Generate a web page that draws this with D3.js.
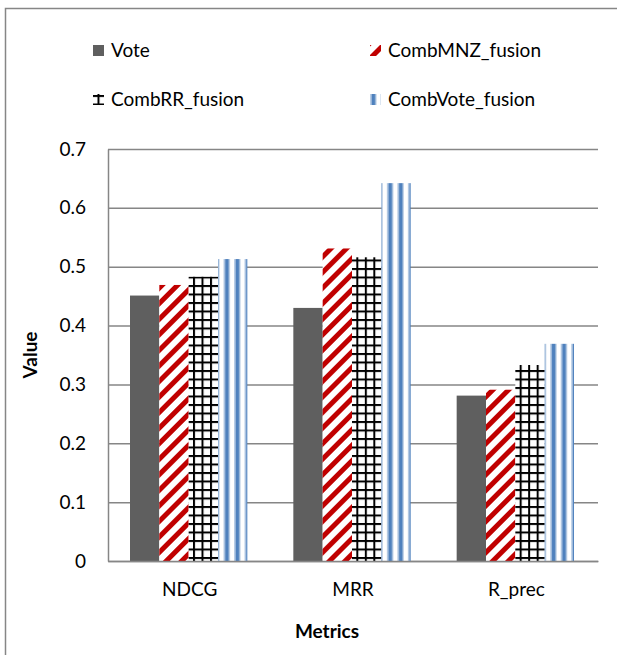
<!DOCTYPE html>
<html>
<head>
<meta charset="utf-8">
<script src="https://cdn.jsdelivr.net/npm/d3@7"></script>
<style>
  html, body { margin: 0; padding: 0; background: #fff; overflow: hidden; }
  svg { display: block; font-family: Lato, "Open Sans", sans-serif; }
</style>
</head>
<body>
<div id="chart"></div>
<script>
// ---------- data ----------
const metrics = ["NDCG", "MRR", "R_prec"];
const seriesNames = ["Vote", "CombMNZ_fusion", "CombRR_fusion", "CombVote_fusion"];
const vote = [0.451, 0.430, 0.281];
const combMNZ = [0.469, 0.531, 0.291];
const combRR = [0.483, 0.516, 0.333];
const combVote = [0.513, 0.642, 0.369];
const yTicks = [0, 0.1, 0.2, 0.3, 0.4, 0.5, 0.6, 0.7];

const seriesValues = [vote, combMNZ, combRR, combVote];

// ---------- layout ----------
const width = 617, height = 655;
const margin = { top: 149, right: 19, bottom: 94, left: 108 };
const innerWidth = width - margin.left - margin.right;
const innerHeight = height - margin.top - margin.bottom;

const svg = d3.select("#chart").append("svg")
  .attr("width", width)
  .attr("height", height);

// ---------- patterns ----------
const defs = svg.append("defs");

// red diagonal stripes
const pRed = defs.append("pattern")
  .attr("id", "pat-mnz")
  .attr("patternUnits", "userSpaceOnUse")
  .attr("width", 11).attr("height", 11)
  .attr("patternTransform", "rotate(45)");
pRed.append("rect").attr("width", 11).attr("height", 11).attr("fill", "#fff");
pRed.append("rect").attr("width", 5).attr("height", 11).attr("fill", "#c00000");

// black grid
const pGrid = defs.append("pattern")
  .attr("id", "pat-rr")
  .attr("patternUnits", "userSpaceOnUse")
  .attr("width", 8.5).attr("height", 8.5);
pGrid.append("rect").attr("width", 8.5).attr("height", 8.5).attr("fill", "#fff");
pGrid.append("rect").attr("x", 0).attr("width", 2).attr("height", 8.5).attr("fill", "#000");
pGrid.append("rect").attr("y", 0).attr("width", 8.5).attr("height", 2).attr("fill", "#000");

// blue vertical stripes
const pBlue = defs.append("pattern")
  .attr("id", "pat-vote")
  .attr("patternUnits", "userSpaceOnUse")
  .attr("width", 10.5).attr("height", 10);
pBlue.append("rect").attr("width", 10.5).attr("height", 10).attr("fill", "#fff");
pBlue.append("rect").attr("x", 0).attr("width", 1.5).attr("height", 10).attr("fill", "#b9cde5");
pBlue.append("rect").attr("x", 1.5).attr("width", 4).attr("height", 10).attr("fill", "#4f81bd");
pBlue.append("rect").attr("x", 5.5).attr("width", 1).attr("height", 10).attr("fill", "#b9cde5");

const fills = ["#5f5f5f", "url(#pat-mnz)", "url(#pat-rr)", "url(#pat-vote)"];

// ---------- outer frame (only left + top edges are in view) ----------
svg.append("path")
  .attr("d", `M5.5,${height}V8.5H${width}`)
  .attr("fill", "none")
  .attr("stroke", "#868686")
  .attr("stroke-width", 1.5);

const g = svg.append("g")
  .attr("transform", `translate(${margin.left},${margin.top})`);

// ---------- scales ----------
const x0 = d3.scaleBand()
  .domain(metrics)
  .range([0, innerWidth])
  .paddingInner(0)
  .paddingOuter(0);

const x1 = d3.scaleBand()
  .domain(d3.range(seriesNames.length))
  .range([22, x0.bandwidth() - 24])
  .padding(0);

const y = d3.scaleLinear()
  .domain([0, 0.7])
  .range([innerHeight, 0]);

// ---------- gridlines ----------
g.append("g")
  .attr("class", "grid")
  .call(d3.axisLeft(y).tickValues(yTicks).tickSize(-innerWidth).tickFormat(""))
  .call(s => s.select(".domain").remove())
  .call(s => s.selectAll("line").attr("stroke", "#868686").attr("stroke-width", 1.5));

// ---------- bars ----------
const groups = g.selectAll(".metric")
  .data(metrics)
  .join("g")
  .attr("class", "metric")
  .attr("transform", d => `translate(${x0(d)},0)`);

groups.selectAll("rect")
  .data((d, i) => seriesValues.map((vals, s) => ({ s, v: vals[i] })))
  .join("rect")
  .attr("x", d => x1(d.s))
  .attr("width", x1.bandwidth())
  .attr("y", d => y(d.v))
  .attr("height", d => innerHeight - y(d.v))
  .attr("fill", d => fills[d.s]);

// ---------- axes ----------
const yAxis = g.append("g")
  .call(d3.axisLeft(y).tickValues(yTicks).tickSize(0).tickPadding(22).tickFormat(d => d === 0 ? "0" : d3.format(".1f")(d)));
yAxis.select(".domain").attr("stroke", "#868686").attr("stroke-width", 1.5);
yAxis.selectAll("text").attr("font-size", 19).attr("fill", "#000").attr("font-family", "Lato, 'Open Sans', sans-serif");

const xAxis = g.append("g")
  .attr("transform", `translate(0,${innerHeight})`)
  .call(d3.axisBottom(x0).tickSize(0).tickPadding(22));
xAxis.select(".domain").attr("stroke", "#868686").attr("stroke-width", 1.5);
xAxis.selectAll("text").attr("font-size", 19).attr("fill", "#000").attr("font-family", "Lato, 'Open Sans', sans-serif");

// axis titles
svg.append("text")
  .attr("transform", `translate(37,355) rotate(-90)`)
  .attr("text-anchor", "middle")
  .attr("font-size", 19)
  .attr("font-weight", "bold")
  .text("Value");

svg.append("text")
  .attr("x", 327)
  .attr("y", 638)
  .attr("text-anchor", "middle")
  .attr("font-size", 19)
  .attr("font-weight", "bold")
  .text("Metrics");

// ---------- legend ----------
const legendPos = [[93, 50], [370, 50], [93, 99], [370, 99]];
// pattern offsets so each small key shows the same piece of pattern as the original
const keyShift = [[0, 0], [3, 2], [4.5, -4], [0, 0]];
const legend = svg.selectAll(".legend")
  .data(seriesNames)
  .join("g")
  .attr("class", "legend")
  .attr("transform", (d, i) => `translate(${legendPos[i][0]},${legendPos[i][1]})`);

legend.append("rect")
  .attr("transform", (d, i) => `translate(${keyShift[i][0]},${keyShift[i][1]})`)
  .attr("x", (d, i) => -keyShift[i][0])
  .attr("y", (d, i) => -5 - keyShift[i][1])
  .attr("width", 11).attr("height", 11)
  .attr("fill", (d, i) => fills[i]);

legend.append("text")
  .attr("x", 18)
  .attr("y", 0)
  .attr("dy", "0.35em")
  .attr("font-size", 19)
  .text(d => d);
</script>
</body>
</html>
